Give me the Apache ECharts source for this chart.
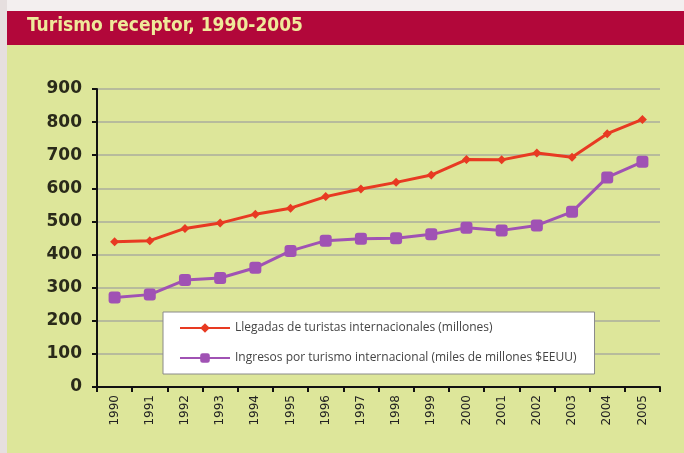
<!DOCTYPE html>
<html>
<head>
<meta charset="utf-8">
<script src="https://cdn.jsdelivr.net/npm/echarts@6/dist/echarts.min.js"></script>
<style>
  html, body { margin: 0; padding: 0; background: #f2eeee; }
  #chart { width: 684px; height: 453px; }
</style>
</head>
<body>
<div id="chart"></div>
<script>
  // categorias (años)
  const years = ['1990', '1991', '1992', '1993', '1994', '1995', '1996', '1997',
    '1998', '1999', '2000', '2001', '2002', '2003', '2004', '2005']
  // Llegadas de turistas internacionales (millones)
  const llegadas = [439, 442, 479, 495, 522, 540, 575, 598, 618, 640, 687, 686, 707, 694, 765, 808]
  // Ingresos por turismo internacional (miles de millones $EEUU)
  const ingresos = [270, 279, 323, 329, 360, 411, 442, 448, 449, 461, 481, 473, 488, 529, 633, 680]
  const yTicks = [0, 100, 200, 300, 400, 500, 600, 700, 800, 900]

  const myChart = echarts.init(document.getElementById('chart'))
  const option = {
    backgroundColor: '#dde69a',
    animation: false,
    graphic: [
      // franja superior y lateral (fondo de la página)
      { type: 'rect', left: 0, top: 0, shape: { width: 684, height: 11 }, style: { fill: '#f3efef' } },
      { type: 'rect', left: 0, top: 0, shape: { width: 7, height: 453 }, style: { fill: '#e6dfdf' } },
      // barra del título
      { type: 'rect', left: 7, top: 11, shape: { width: 677, height: 34 }, style: { fill: '#b2073a' } },
      {
        type: 'text', left: 27, top: 17,
        style: {
          text: 'Turismo receptor, 1990-2005',
          fill: '#efe99a',
          font: 'bold 19px "DejaVu Sans Condensed", sans-serif'
        }
      }
    ],
    grid: {
      left: 97,
      right: 24,
      top: 89,
      bottom: 66
    },
    legend: {
      orient: 'vertical',
      left: 163,
      top: 312,
      width: 431,
      backgroundColor: '#ffffff',
      borderColor: '#8a8a8a',
      borderWidth: 1,
      padding: [10, 18, 10, 16],
      itemGap: 18,
      itemWidth: 50,
      itemHeight: 12,
      textStyle: { color: '#444', fontSize: 12, fontFamily: 'Open Sans' },
      data: ['Llegadas de turistas internacionales (millones)',
        'Ingresos por turismo internacional (miles de millones $EEUU)']
    },
    xAxis: {
      type: 'category',
      data: years,
      boundaryGap: true,
      axisLine: { lineStyle: { color: '#111', width: 2 } },
      axisTick: { show: true, length: 5, lineStyle: { color: '#111', width: 2 } },
      axisLabel: {
        rotate: 90,
        color: '#222',
        fontSize: 12,
        fontFamily: 'DejaVu Sans',
        margin: 8
      }
    },
    yAxis: {
      type: 'value',
      min: 0,
      max: 900,
      interval: 100,
      axisLine: { show: true, lineStyle: { color: '#111', width: 2 } },
      axisTick: { show: true, length: 5, lineStyle: { color: '#111', width: 2 } },
      splitLine: { lineStyle: { color: '#b7bb9c', width: 2 } },
      axisLabel: {
        color: '#2a2a1a',
        fontSize: 17,
        fontWeight: 'bold',
        fontFamily: 'DejaVu Sans',
        margin: 15,
        formatter: function (v) { return yTicks.indexOf(v) >= 0 ? String(v) : '' }
      }
    },
    series: [
      {
        name: 'Llegadas de turistas internacionales (millones)',
        type: 'line',
        data: llegadas,
        symbol: 'diamond',
        symbolSize: 9,
        lineStyle: { color: '#e83a22', width: 3 },
        itemStyle: { color: '#e83a22' },
        z: 3
      },
      {
        name: 'Ingresos por turismo internacional (miles de millones $EEUU)',
        type: 'line',
        data: ingresos,
        symbol: 'roundRect',
        symbolSize: 12,
        lineStyle: { color: '#a052b4', width: 3 },
        itemStyle: { color: '#a052b4' },
        z: 2
      }
    ]
  }
  myChart.setOption(option, true)
</script>
</body>
</html>
